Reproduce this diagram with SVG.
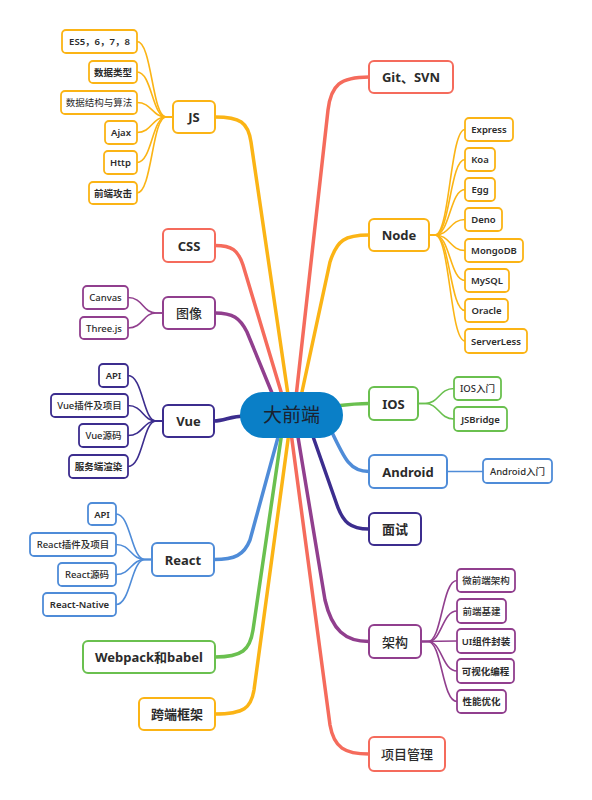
<svg xmlns="http://www.w3.org/2000/svg" width="592" height="800" viewBox="0 0 592 800">
<style>
text{font-family:"Noto Sans","Noto Sans CJK SC",sans-serif;text-anchor:middle;dominant-baseline:central;fill:#2b2b2b}
.m text{font-size:13px;font-weight:700}
.c text{font-size:9.5px;font-weight:600}
rect{fill:#ffffff;stroke-width:2}
.c rect{stroke-width:1.8}
path{fill:none;stroke-linecap:round}
.main path{stroke-width:3.5}
.sub path{stroke-width:1.6}
.o rect{stroke:#fbb415}.o path,path.o{stroke:#fbb415}
.r rect{stroke:#f56b5c}path.r{stroke:#f56b5c}
.p rect{stroke:#913f8e}path.p{stroke:#913f8e}
.i rect{stroke:#3c2d8e}path.i{stroke:#3c2d8e}
.b rect{stroke:#4f8cd8}path.b{stroke:#4f8cd8}
.g rect{stroke:#6ac04f}path.g{stroke:#6ac04f}
</style>
<rect x="0" y="0" width="592" height="800" fill="#f9f9f9" stroke="none"/>
<g id="connectors">
<g class="main">
<path class="o" d="M291 415 L251 142 C248 122 240 117 215 117"/>
<path class="r" d="M288 415 L243 265 C238 250 232 245.5 215 245.5"/>
<path class="p" d="M281 415 L247 332 C240 318 233 313 215 313"/>
<path class="i" d="M245 416 C230 416 225 421 214 421"/>
<path class="b" d="M280 430 L250 540 C244 555 235 559.5 214 559.5"/>
<path class="g" d="M283 425 L253 630 C250 650 242 657 215 657"/>
<path class="o" d="M290 425 L254 690 C251 708 244 714 215 714"/>
<path class="r" d="M294 415 L328 110 C331 85 340 77 369 77"/>
<path class="o" d="M297 415 L330 262 C337 240 345 235 369 235"/>
<path class="g" d="M335 406 C352 404 358 403.5 369 403.5"/>
<path class="b" d="M330 428 C345 460 350 471.5 369 471.5"/>
<path class="i" d="M310 428 L337 505 C343 522 350 529 369 529"/>
<path class="p" d="M296 425 L325 600 C332 630 345 641.5 369 641.5"/>
<path class="r" d="M290 425 L330 725 C334 748 345 754 369 754"/>
</g>
<g class="sub">
<path class="o" d="M173 117 L166 117 C152 117 152 41.5 137 41.5"/>
<path class="o" d="M173 117 L166 117 C152 117 152 72 137 72"/>
<path class="o" d="M173 117 L166 117 C152 117 152 102.5 137 102.5"/>
<path class="o" d="M173 117 L166 117 C152 117 152 132.5 137 132.5"/>
<path class="o" d="M173 117 L166 117 C152 117 152 162.5 137 162.5"/>
<path class="o" d="M173 117 L166 117 C152 117 152 193 137 193"/>
<path class="o" d="M429 235 L435 235 C450 235 450 129.5 465 129.5"/>
<path class="o" d="M429 235 L435 235 C450 235 450 159.5 465 159.5"/>
<path class="o" d="M429 235 L435 235 C450 235 450 189.5 465 189.5"/>
<path class="o" d="M429 235 L435 235 C450 235 450 219.5 465 219.5"/>
<path class="o" d="M429 235 L435 235 C450 235 450 250.5 465 250.5"/>
<path class="o" d="M429 235 L435 235 C450 235 450 280.5 465 280.5"/>
<path class="o" d="M429 235 L435 235 C450 235 450 310.5 465 310.5"/>
<path class="o" d="M429 235 L435 235 C450 235 450 341 465 341"/>
<path class="p" d="M163 313 L156 313 C143 313 143 297.5 128 297.5"/>
<path class="p" d="M163 313 L156 313 C143 313 143 328 128 328"/>
<path class="i" d="M163 421 L156 421 C143 421 143 375.5 128 375.5"/>
<path class="i" d="M163 421 L156 421 C143 421 143 405.5 128 405.5"/>
<path class="i" d="M163 421 L156 421 C143 421 143 435.5 128 435.5"/>
<path class="i" d="M163 421 L156 421 C143 421 143 466.5 128 466.5"/>
<path class="b" d="M152 559.5 L145 559.5 C131 559.5 131 514 116 514"/>
<path class="b" d="M152 559.5 L145 559.5 C131 559.5 131 544.5 116 544.5"/>
<path class="b" d="M152 559.5 L145 559.5 C131 559.5 131 574.5 116 574.5"/>
<path class="b" d="M152 559.5 L145 559.5 C131 559.5 131 604.5 116 604.5"/>
<path class="g" d="M418 403.5 L425 403.5 C439 403.5 439 388.5 454 388.5"/>
<path class="g" d="M418 403.5 L425 403.5 C439 403.5 439 419 454 419"/>
<path class="b" d="M447 471.5 L483 471.5"/>
<path class="p" d="M421 641.5 L428 641.5 C442 641.5 442 580.5 457 580.5"/>
<path class="p" d="M421 641.5 L428 641.5 C442 641.5 442 611 457 611"/>
<path class="p" d="M421 641.5 L457 641"/>
<path class="p" d="M421 641.5 L428 641.5 C442 641.5 442 671 457 671"/>
<path class="p" d="M421 641.5 L428 641.5 C442 641.5 442 701.5 457 701.5"/>
</g>
</g>
<g class="m">
<g id="n-js" class="o"><rect x="173" y="101" width="42" height="32" rx="5"/><text x="194" y="117">JS</text></g>
<g id="n-css" class="r"><rect x="163" y="229" width="52" height="33" rx="5"/><text x="189" y="245.5">CSS</text></g>
<g id="n-img" class="p"><rect x="163" y="297" width="52" height="32" rx="5"/><text x="189" y="313" style="font-weight:500">图像</text></g>
<g id="n-vue" class="i"><rect x="163" y="405" width="51" height="32" rx="5"/><text x="188.5" y="421">Vue</text></g>
<g id="n-react" class="b"><rect x="152" y="543" width="62" height="33" rx="5"/><text x="183" y="559.5">React</text></g>
<g id="n-webpack" class="g"><rect x="83" y="641" width="132" height="32" rx="5"/><text x="149" y="657">Webpack和babel</text></g>
<g id="n-cross" class="o"><rect x="139" y="698" width="76" height="32" rx="5"/><text x="177" y="714">跨端框架</text></g>
<g id="n-git" class="r"><rect x="369" y="61" width="84" height="32" rx="5"/><text x="411" y="77">Git、SVN</text></g>
<g id="n-node" class="o"><rect x="369" y="219" width="60" height="32" rx="5"/><text x="399" y="235">Node</text></g>
<g id="n-ios" class="g"><rect x="369" y="387" width="49" height="33" rx="5"/><text x="393.5" y="403.5">IOS</text></g>
<g id="n-android" class="b"><rect x="369" y="455" width="78" height="33" rx="5"/><text x="408" y="471.5">Android</text></g>
<g id="n-interview" class="i"><rect x="369" y="513" width="52" height="32" rx="5"/><text x="395" y="529">面试</text></g>
<g id="n-arch" class="p"><rect x="369" y="625" width="52" height="33" rx="5"/><text x="395" y="641.5" style="font-weight:500">架构</text></g>
<g id="n-pm" class="r"><rect x="369" y="737" width="76" height="34" rx="5"/><text x="407" y="754" style="font-weight:500">项目管理</text></g>
</g>
<g class="c">
<g id="c-es" class="o"><rect x="62" y="30" width="75" height="23" rx="4"/><text x="99.5" y="41.5">ES5，6，7，8</text></g>
<g id="c-type" class="o"><rect x="89" y="61" width="48" height="22" rx="4"/><text x="113" y="72">数据类型</text></g>
<g id="c-algo" class="o"><rect x="61" y="91" width="76" height="23" rx="4"/><text x="99" y="102.5" style="font-weight:400">数据结构与算法</text></g>
<g id="c-ajax" class="o"><rect x="105" y="121" width="32" height="23" rx="4"/><text x="121" y="132.5">Ajax</text></g>
<g id="c-http" class="o"><rect x="104" y="151" width="33" height="23" rx="4"/><text x="120.5" y="162.5">Http</text></g>
<g id="c-attack" class="o"><rect x="89" y="182" width="48" height="22" rx="4"/><text x="113" y="193">前端攻击</text></g>
<g id="c-express" class="o"><rect x="465" y="118" width="48" height="23" rx="4"/><text x="489" y="129.5">Express</text></g>
<g id="c-koa" class="o"><rect x="465" y="148" width="30" height="23" rx="4"/><text x="480" y="159.5">Koa</text></g>
<g id="c-egg" class="o"><rect x="465" y="178" width="30" height="23" rx="4"/><text x="480" y="189.5">Egg</text></g>
<g id="c-deno" class="o"><rect x="465" y="208" width="37" height="23" rx="4"/><text x="483.5" y="219.5">Deno</text></g>
<g id="c-mongo" class="o"><rect x="465" y="239" width="58" height="23" rx="4"/><text x="494" y="250.5">MongoDB</text></g>
<g id="c-mysql" class="o"><rect x="465" y="269" width="44" height="23" rx="4"/><text x="487" y="280.5">MySQL</text></g>
<g id="c-oracle" class="o"><rect x="465" y="299" width="43" height="23" rx="4"/><text x="486.5" y="310.5">Oracle</text></g>
<g id="c-serverless" class="o"><rect x="465" y="329" width="62" height="24" rx="4"/><text x="496" y="341">ServerLess</text></g>
<g id="c-canvas" class="p"><rect x="83" y="286" width="45" height="23" rx="4"/><text x="105.5" y="297.5" style="font-weight:500">Canvas</text></g>
<g id="c-three" class="p"><rect x="80" y="317" width="48" height="22" rx="4"/><text x="104" y="328" style="font-weight:500">Three.js</text></g>
<g id="c-vapi" class="i"><rect x="99" y="364" width="29" height="23" rx="4"/><text x="113.5" y="375.5">API</text></g>
<g id="c-vplug" class="i"><rect x="51" y="394" width="77" height="23" rx="4"/><text x="89.5" y="405.5" style="font-weight:500">Vue插件及项目</text></g>
<g id="c-vsrc" class="i"><rect x="79" y="424" width="49" height="23" rx="4"/><text x="103.5" y="435.5" style="font-weight:500">Vue源码</text></g>
<g id="c-ssr" class="i"><rect x="69" y="455" width="59" height="23" rx="4"/><text x="98.5" y="466.5">服务端渲染</text></g>
<g id="c-rapi" class="b"><rect x="88" y="503" width="28" height="22" rx="4"/><text x="102" y="514">API</text></g>
<g id="c-rplug" class="b"><rect x="30" y="533" width="86" height="23" rx="4"/><text x="73" y="544.5" style="font-weight:500">React插件及项目</text></g>
<g id="c-rsrc" class="b"><rect x="58" y="563" width="58" height="23" rx="4"/><text x="87" y="574.5" style="font-weight:500">React源码</text></g>
<g id="c-rn" class="b"><rect x="43" y="593" width="73" height="23" rx="4"/><text x="79.5" y="604.5">React-Native</text></g>
<g id="c-iosin" class="g"><rect x="454" y="377" width="47" height="23" rx="4"/><text x="477.5" y="388.5" style="font-weight:500">IOS入门</text></g>
<g id="c-jsb" class="g"><rect x="454" y="407" width="53" height="24" rx="4"/><text x="480.5" y="419">JSBridge</text></g>
<g id="c-andin" class="b"><rect x="483" y="459" width="69" height="24" rx="4"/><text x="517.5" y="471" style="font-weight:500">Android入门</text></g>
<g id="c-micro" class="p"><rect x="457" y="569" width="58" height="23" rx="4"/><text x="486" y="580.5" style="font-weight:500">微前端架构</text></g>
<g id="c-infra" class="p"><rect x="457" y="599" width="49" height="24" rx="4"/><text x="481.5" y="611" style="font-weight:500">前端基建</text></g>
<g id="c-ui" class="p"><rect x="457" y="629" width="58" height="24" rx="4"/><text x="486" y="641">UI组件封装</text></g>
<g id="c-visual" class="p"><rect x="457" y="659" width="57" height="24" rx="4"/><text x="485.5" y="671">可视化编程</text></g>
<g id="c-perf" class="p"><rect x="457" y="690" width="49" height="23" rx="4"/><text x="481.5" y="701.5">性能优化</text></g>
</g>
<g id="root"><rect x="241" y="393" width="101" height="44" rx="22" style="fill:#0a7fc7;stroke:#0a7fc7"/><text x="291.5" y="415" style="font-size:19px;font-weight:400;fill:#1b2230">大前端</text></g>
</svg>
